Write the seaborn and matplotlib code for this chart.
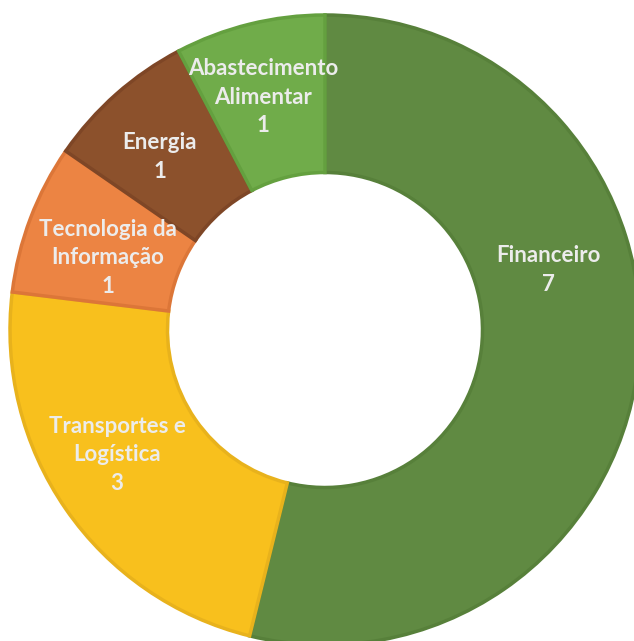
import matplotlib
matplotlib.use("Agg")
import matplotlib.pyplot as plt
import seaborn as sns

sectors = ["Financeiro", "Transportes e\nLogística", "Tecnologia da\nInformação",
           "Energia", "Abastecimento\nAlimentar"]
counts = [7, 3, 1, 1, 1]
colors = ["#608A42", "#F8C01D", "#EC8443", "#8C512C", "#70AC4A"]
edges = ["#57803A", "#E8B21C", "#DC7638", "#7E4626", "#64A03F"]

sns.set_theme(style="white")
plt.rcParams['font.family'] = ['Lato', 'DejaVu Sans']

fig = plt.figure(figsize=(6.34, 6.41), dpi=100)
ax = fig.add_axes([0, 0, 1, 1])

wedges, _ = ax.pie(counts, colors=colors, startangle=90, counterclock=False,
                   radius=1.0, wedgeprops=dict(width=0.5, linewidth=2.5))
for w, ec in zip(wedges, edges):
    w.set_edgecolor(ec)

# label placement (pixel centres, converted to data units)
label_px = [(548, 270), (117, 455), (108, 258), (160, 157), (263, 97)]
for name, n, (px, py) in zip(sectors, counts, label_px):
    ax.text((px - 325) / 315, (330 - py) / 315, f"{name}\n{n}",
            ha="center", va="center", color="#ECECEC", fontsize=16,
            fontweight="bold", linespacing=1.45)

ax.set_xlim(-325 / 315, (634 - 325) / 315)
ax.set_ylim(-(641 - 330) / 315, 330 / 315)
ax.set_aspect("auto")
ax.axis("off")

fig.savefig("out.png", dpi=100)
